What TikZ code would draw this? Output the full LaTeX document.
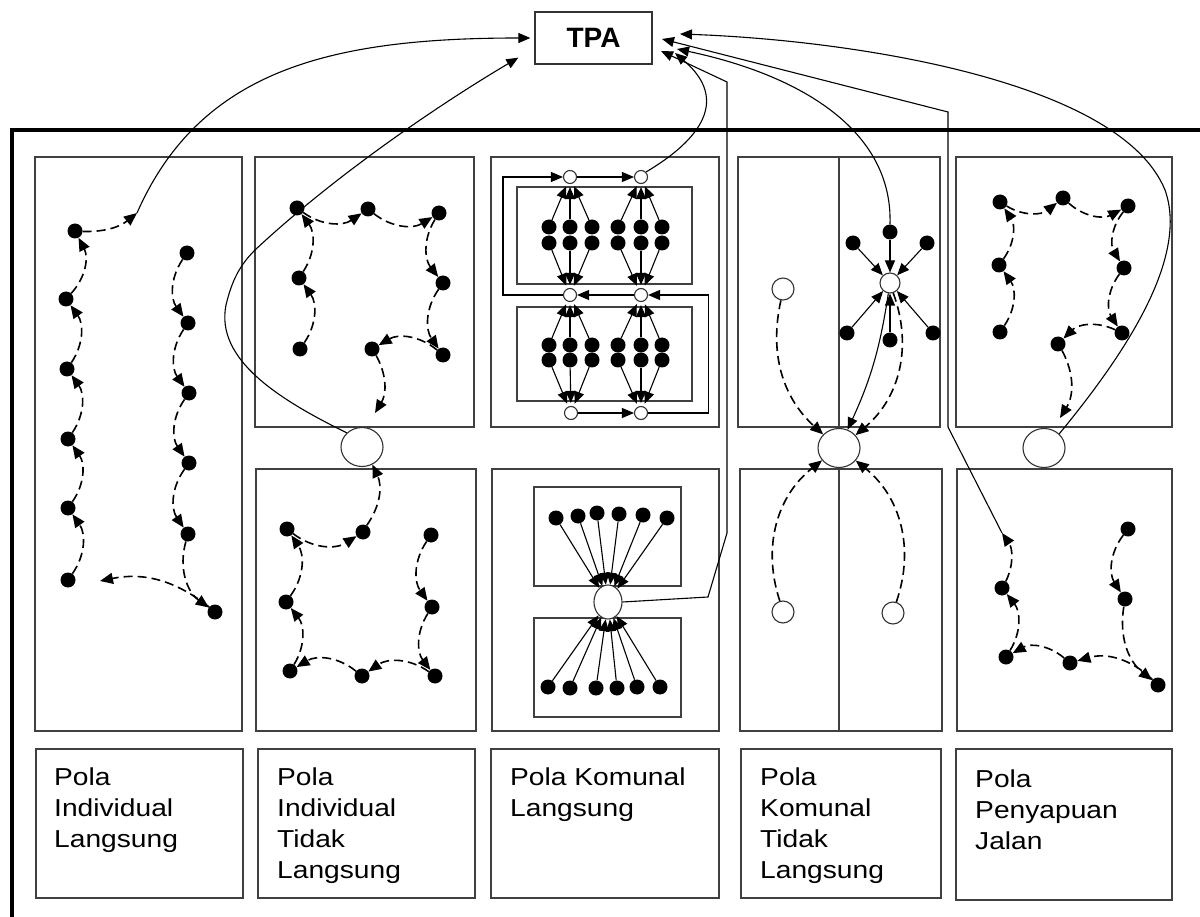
\documentclass[tikz,border=0pt]{standalone}
\usepackage{fontspec}
\newfontfamily\labfont[FakeStretch=1.15]{Liberation Sans}
\newfontfamily\tpafont{Liberation Sans}
\usetikzlibrary{arrows.meta,shapes.geometric}
\begin{document}
\begin{tikzpicture}[x=1pt,y=1pt,
  bx/.style={draw=black!75, line width=1.5pt},
  dot/.style={circle, fill=black, inner sep=0pt, minimum size=15pt},
  cdot/.style={circle, fill=black, inner sep=0pt, minimum size=15pt},
  odot/.style={circle, draw=black!80, line width=1.1pt, fill=white, inner sep=0pt, minimum size=13pt},
  tcp/.style={ellipse, draw=black!80, line width=1.1pt, inner sep=0pt, minimum width=42pt, minimum height=39pt},
  arr/.style={-{Triangle[length=12pt,width=10pt]}, line width=1.1pt},
  dsh/.style={-{Triangle[length=13pt,width=11pt]}, dash pattern=on 9pt off 5pt, line width=1.6pt},
  lbl/.style={anchor=base west, inner sep=0pt, font=\labfont\fontsize{24.5}{31}\selectfont}]
\useasboundingbox (0,0) rectangle (1200,-917);
\fill[white] (0,0) rectangle (1200,-917);

% TPA
\node[draw=black!80, line width=1.3pt, minimum width=117pt, minimum height=52pt, inner sep=0pt,
      font=\tpafont\bfseries\fontsize{28}{30}\selectfont] (tpa) at (593.5,-38) {TPA};
\coordinate (tA) at (680,-34);
\coordinate (tB) at (662,-39);
\coordinate (tC) at (661,-51);
\coordinate (tD) at (675,-53);
\coordinate (tE) at (677,-49);

% outer frame
\draw[line width=3.5pt] (1200,-130) -- (12,-130) -- (12,-917);

% panel boxes
\draw[bx] (35,-157) rectangle (242,-731);
\draw[bx] (255,-157) rectangle (474,-427);
\draw[bx] (256,-469) rectangle (476,-731);
\draw[bx] (491,-157) rectangle (719,-427);
\draw[bx] (492,-469) rectangle (719,-731);
\draw[bx] (517,-187) rectangle (692,-284);
\draw[bx] (517,-307) rectangle (692,-401);
\draw[bx] (534,-487) rectangle (681,-586);
\draw[bx] (534,-618) rectangle (681,-717);
\draw[bx] (738,-157) rectangle (940,-427);
\draw[bx] (839,-157) -- (839,-427);
\draw[bx] (740,-469) rectangle (942,-731);
\draw[bx] (839,-469) -- (839,-731);
\draw[bx] (956,-157) rectangle (1172,-427);
\draw[bx] (957,-469) rectangle (1172,-731);

% label boxes
\draw[bx] (36,-749) rectangle (243,-898);
\draw[bx] (258,-749) rectangle (475,-898);
\draw[bx] (491,-749) rectangle (719,-898);
\draw[bx] (741,-749) rectangle (941,-898);
\draw[bx] (956,-749) rectangle (1172,-900);
\node[lbl] (L1) at (54,-785) {\begin{tabular}[t]{@{}l@{}}Pola\\Individual\\Langsung\end{tabular}};
\node[lbl] (L2) at (277,-785) {\begin{tabular}[t]{@{}l@{}}Pola\\Individual\\Tidak\\Langsung\end{tabular}};
\node[lbl] (L3) at (510,-785) {\begin{tabular}[t]{@{}l@{}}Pola Komunal\\Langsung\end{tabular}};
\node[lbl] (L4) at (760,-785) {\begin{tabular}[t]{@{}l@{}}Pola\\Komunal\\Tidak\\Langsung\end{tabular}};
\node[lbl] (L5) at (975,-787) {\begin{tabular}[t]{@{}l@{}}Pola\\Penyapuan\\Jalan\end{tabular}};

% ---------- Column 1 ----------
\foreach \n/\x/\y in {l1/75/231, l2/66/299, l3/67/369, l4/68/439, l5/68/508, l6/68/580,
                      r1/187/253, r2/188/323, r3/189/393, r4/189/463, r5/188/534, r6/215/612}
  \node[dot] (\n) at (\x,-\y) {};
\coordinate (e1) at (100,-581);
\coordinate (s1) at (137,-213);
\foreach \a/\b in {r1/r2,r2/r3,r3/r4,r4/r5,r5/r6,l6/l5,l5/l4,l4/l3,l3/l2,l2/l1}
  \draw[dsh] (\a) to[bend right=35] (\b);
\draw[dsh] (r6) to[bend right=25] (e1);
\draw[dsh] (l1) to[bend right=20] (s1);
\draw[arr, shorten >=4pt] (s1) .. controls (200,-70) and (330,-38) .. (tpa.west);

% ---------- Column 2 ----------
\node[tcp] (c2) at (362,-447) {};
\foreach \n/\x/\y in {A/297/208, B/368/209, C/439/213, D/443/283, E/443/355, F/372/349, G/299/278, H/300/349,
                      P/363/532, Q/287/529, R/286/602, S/290/671, T/362/676, U/435/676, V/432/607, W/431/535}
  \node[dot] (\n) at (\x,-\y) {};
\coordinate (e2) at (375,-413);
\foreach \a/\b in {H/G,G/A,A/B,B/C,C/D,D/E,E/F,W/V,V/U,U/T,T/S,S/R,R/Q,Q/P}
  \draw[dsh] (\a) to[bend right=35] (\b);
\draw[dsh] (F) to[bend left=30] (e2);
\draw[dsh] (P) to[bend right=30] (c2);
\draw[arr] (c2.north west) .. controls (280,-400) and (215,-360) .. (226,-305)
   .. controls (232,-280) and (240,-265) .. (255,-250)
   .. controls (330,-180) and (430,-110) .. ([shift={(-16,7)}]tpa.south west);

% ---------- Column 3 top ----------
\node[odot] (k1) at (570,-177) {};
\node[odot] (k2) at (641,-177) {};
\node[odot] (k3) at (570,-295) {};
\node[odot] (k4) at (641,-295) {};
\node[odot] (k5) at (571,-413) {};
\node[odot] (k6) at (641,-413) {};
\foreach \j/\x in {1/549,2/570,3/592}{
  \node[cdot] (a1\j) at (\x,-227) {};
  \node[cdot] (a2\j) at (\x,-243) {};
  \node[cdot] (c1\j) at (\x,-345) {};
  \node[cdot] (c2\j) at (\x,-360) {};
}
\foreach \j/\x in {1/618,2/641,3/662}{
  \node[cdot] (b1\j) at (\x,-227) {};
  \node[cdot] (b2\j) at (\x,-243) {};
  \node[cdot] (d1\j) at (\x,-345) {};
  \node[cdot] (d2\j) at (\x,-360) {};
}
\foreach \j in {1,2,3}{
  \draw[arr, shorten >=3pt] (a1\j) -- (k1);
  \draw[arr, shorten >=3pt] (a2\j) -- (k3);
  \draw[arr, shorten >=3pt] (b1\j) -- (k2);
  \draw[arr, shorten >=3pt] (b2\j) -- (k4);
  \draw[arr, shorten >=3pt] (c1\j) -- (k3);
  \draw[arr, shorten >=3pt] (c2\j) -- (k5);
  \draw[arr, shorten >=3pt] (d1\j) -- (k4);
  \draw[arr, shorten >=3pt] (d2\j) -- (k6);
}
\draw[arr] (k5) -- (k6);
\draw[arr] (k6.east) -- ++(60,0) |- (k4.east);
\draw[arr] (k4) -- (k3);
\draw[arr] (k3.west) -- ++(-60,0) |- (k1.west);
\draw[arr] (k1) -- (k2);
\draw[arr] (k2.north east) .. controls (700,-140) and (730,-100) .. (tD);

% ---------- Column 3 bottom ----------
\node[ellipse, draw=black!80, line width=1.1pt, fill=white, inner sep=0pt, minimum width=28pt, minimum height=34pt] (m) at (608,-602) {};
\foreach \n/\x/\y in {t1/556/518, t2/578/516, t3/597/513, t4/619/514, t5/643/515, t6/667/518,
                      u1/548/687, u2/570/688, u3/596/688, u4/617/688, u5/637/687, u6/660/687}{
  \node[dot] (\n) at (\x,-\y) {};
  \draw[arr] (\n) -- (m);
}
\draw[arr] (m.east) -- (708,-597) -- (727,-533) -- (727,-82) -- (tC);

% ---------- Column 4 ----------
\node[tcp] (c4) at (839,-448) {};
\node[circle, draw=black!80, line width=1.1pt, inner sep=0pt, minimum size=20pt] (q) at (890,-283) {};
\node[circle, draw=black!80, line width=1.1pt, inner sep=0pt, minimum size=22pt] (o1) at (783,-289) {};
\node[circle, draw=black!80, line width=1.1pt, inner sep=0pt, minimum size=22pt] (o2) at (783,-612) {};
\node[circle, draw=black!80, line width=1.1pt, inner sep=0pt, minimum size=22pt] (o3) at (893,-613) {};
\foreach \n/\x/\y in {qa/890/232, qb/853/243, qc/927/243, qd/847/333, qe/890/340, qf/933/333}{
  \node[dot] (\n) at (\x,-\y) {};
  \draw[arr] (\n) -- (q);
}
\draw[arr] (q) to[bend left=8] (c4);
\draw[dsh] (q) to[bend left=35] (c4);
\draw[dsh] (o1) to[bend right=30] (c4);
\draw[dsh] (o2) to[bend left=35] (c4);
\draw[dsh] (o3) to[bend right=35] (c4);
\draw[arr] (qa.north) .. controls (893,-130) and (800,-75) .. (tE);

% ---------- Column 5 ----------
\node[tcp] (c5) at (1044,-448) {};
\foreach \n/\x/\y in {v1/1000/202, v2/1063/198, v3/1128/206, v4/999/265, v5/1000/332, v6/1124/268, v7/1122/333, v8/1058/344,
                      w1/1128/529, w2/1125/599, w3/1002/588, w4/1006/657, w5/1070/663, w6/1158/685}
  \node[dot] (\n) at (\x,-\y) {};
\coordinate (e5) at (1060,-418);
\coordinate (s5) at (1002,-533);
\foreach \a/\b in {v5/v4,v4/v1,v1/v2,v2/v3,v3/v6,v6/v7,v7/v8,w1/w2,w5/w4,w4/w3}
  \draw[dsh] (\a) to[bend right=35] (\b);
\draw[dsh] (v8) to[bend left=30] (e5);
\draw[dsh] (w2) to[bend right=30] (w6);
\draw[dsh] (w6) to[bend right=30] (w5);
\draw[dsh] (w3) to[bend right=30] (s5);
\draw[arr] (s5) -- (948,-427) -- (948,-112) -- (tB);
\draw[arr] (c5.north east) .. controls (1120,-360) and (1190,-260) .. (1165,-190)
   .. controls (1120,-80) and (850,-40) .. (tA);
\end{tikzpicture}
\end{document}
